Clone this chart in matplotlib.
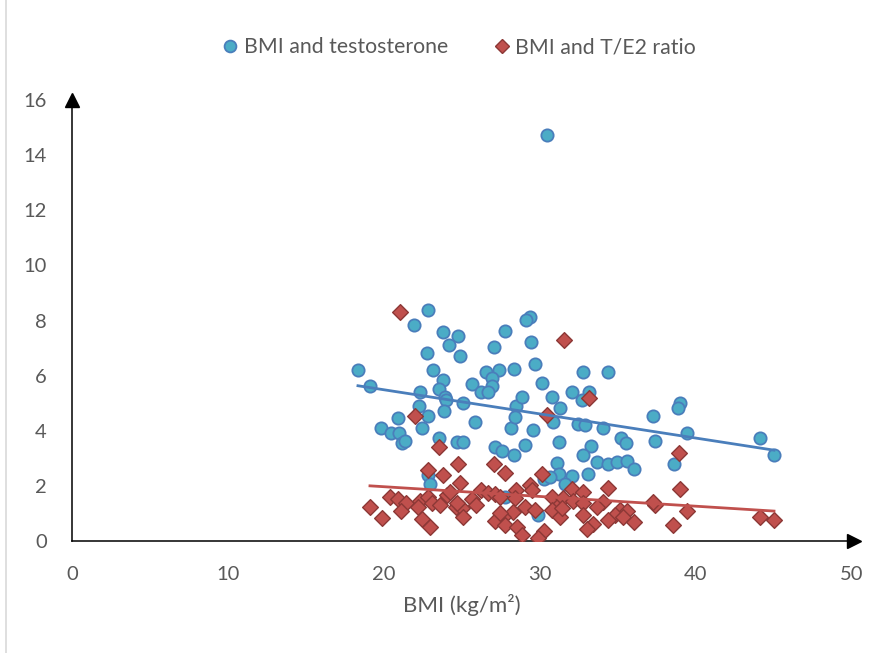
import numpy as np
import matplotlib
matplotlib.use("Agg")
import matplotlib.pyplot as plt
from matplotlib.lines import Line2D

# ---- data ----
bmi_t = [30.45, 22.82, 21.92, 23.78, 24.74, 24.17, 27.76, 27.05, 22.76, 24.87,
         18.33, 23.14, 26.54, 27.37, 28.33, 19.10, 23.78, 26.92, 25.64, 23.53,
         26.92, 26.22, 26.67, 22.31, 23.91, 23.97, 25.06, 22.24, 23.85, 28.46,
         28.85, 20.90, 22.82, 25.83, 29.36, 29.10, 29.42, 29.68, 32.76, 34.36,
         30.13, 32.05, 33.14, 32.69, 30.77, 31.28, 37.24, 38.97, 38.85, 28.14,
         28.40, 19.81, 20.45, 20.96, 21.15, 21.35, 22.44, 23.53, 24.68, 25.06,
         27.12, 27.56, 28.33, 22.82, 22.95, 29.55, 30.83, 31.22, 29.04, 32.44,
         32.88, 34.04, 35.19, 35.51, 37.37, 33.27, 32.76, 33.65, 34.36, 34.94,
         35.58, 36.03, 31.09, 33.08, 31.22, 32.05, 31.60, 30.26, 30.64, 29.87,
         27.76, 44.10, 45.00, 38.59, 39.42]
testosterone = [14.73, 8.38, 7.84, 7.58, 7.44, 7.11, 7.62, 7.04, 6.82, 6.71,
                6.20, 6.20, 6.13, 6.20, 6.24, 5.62, 5.84, 5.91, 5.70, 5.52,
                5.62, 5.41, 5.41, 5.41, 5.22, 5.12, 5.01, 4.90, 4.72, 4.90,
                5.22, 4.46, 4.54, 4.32, 8.13, 8.02, 7.22, 6.42, 6.13, 6.13,
                5.73, 5.41, 5.41, 5.12, 5.22, 4.83, 4.54, 5.01, 4.83, 4.10,
                4.50, 4.10, 3.92, 3.92, 3.56, 3.63, 4.10, 3.74, 3.59, 3.59,
                3.41, 3.27, 3.12, 2.39, 2.07, 4.03, 4.32, 3.59, 3.48, 4.25,
                4.21, 4.10, 3.74, 3.56, 3.63, 3.45, 3.12, 2.87, 2.79, 2.87,
                2.90, 2.61, 2.83, 2.43, 2.43, 2.36, 2.07, 2.25, 2.32, 0.94,
                1.60, 3.74, 3.12, 2.79, 3.92]

bmi_r = [21.00, 31.56, 33.16, 30.45, 21.97, 23.54, 24.76, 27.07, 22.84, 23.76,
         27.76, 24.87, 19.10, 19.85, 20.38, 20.92, 21.41, 21.07, 22.31, 22.20,
         22.84, 23.06, 23.59, 24.02, 22.42, 22.95, 24.62, 24.23, 30.15, 29.36,
         29.51, 28.44, 26.22, 26.69, 27.12, 27.44, 25.62, 25.88, 24.98, 24.66,
         25.08, 28.40, 29.04, 29.68, 28.29, 27.65, 27.12, 27.76, 28.50, 28.83,
         30.28, 29.85, 30.75, 31.07, 30.75, 31.28, 34.38, 32.03, 32.74, 31.50,
         32.14, 32.78, 34.06, 33.63, 31.39, 32.78, 35.13, 35.56, 34.81, 35.34,
         34.38, 36.03, 33.38, 33.00, 37.37, 37.25, 38.50, 38.89, 38.97, 39.40,
         44.10, 45.00, 27.44]
te2_ratio = [8.32, 7.30, 5.20, 4.57, 4.54, 3.42, 2.78, 2.79, 2.59, 2.38,
             2.46, 2.09, 1.22, 0.82, 1.59, 1.51, 1.37, 1.10, 1.46, 1.24,
             1.59, 1.37, 1.31, 1.67, 0.79, 0.50, 1.24, 1.79, 2.42, 2.03,
             1.85, 1.85, 1.85, 1.75, 1.71, 1.61, 1.51, 1.31, 1.19, 1.37,
             0.86, 1.55, 1.24, 1.12, 1.06, 0.88, 0.74, 0.58, 0.50, 0.22,
             0.37, 0.10, 1.61, 1.24, 1.12, 0.88, 1.91, 1.88, 1.79, 1.55,
             1.46, 1.39, 1.43, 1.24, 1.19, 0.94, 1.12, 1.10, 0.94, 0.88,
             0.76, 0.70, 0.62, 0.42, 1.31, 1.40, 0.58, 3.18, 1.89, 1.09,
             0.88, 0.76, 1.00]

x_ticks = [0, 10, 20, 30, 40, 50]
y_ticks = [0, 2, 4, 6, 8, 10, 12, 14, 16]
label_t = "BMI and testosterone"
label_r = "BMI and T/E2 ratio"
x_label = "BMI (kg/m²)"

# ---- style ----
plt.rcParams['font.family'] = ['Lato', 'DejaVu Sans']
TXT = '#595959'
W, H = 885, 653
fig = plt.figure(figsize=(W / 100, H / 100), dpi=100)
ax = fig.add_axes([72 / W, 1 - 541 / H, (852 - 72) / W, (541 - 100) / H])

blue_face, blue_edge = '#4BACC6', '#4A7EBB'
red_face, red_edge = '#C0504D', '#8C3836'

ax.scatter(bmi_t, testosterone, s=78, marker='o', facecolor=blue_face,
           edgecolor=blue_edge, linewidth=1.3, zorder=3)
ax.scatter(bmi_r, te2_ratio, s=64, marker='D', facecolor=red_face,
           edgecolor=red_edge, linewidth=1.0, zorder=4)

# linear trendlines
for xs, ys, c in [(bmi_t, testosterone, '#4A7EBB'), (bmi_r, te2_ratio, '#C0504D')]:
    xs = np.asarray(xs); ys = np.asarray(ys)
    k, b = np.polyfit(xs, ys, 1)
    xx = np.array([xs.min(), xs.max()])
    ax.plot(xx, k * xx + b, color=c, lw=2.0, zorder=5)

ax.set_xlim(0, 50)
ax.set_ylim(0, 16)
ax.set_xticks(x_ticks)
ax.set_yticks(y_ticks)
ax.tick_params(length=0, labelsize=14.5, labelcolor=TXT)
ax.tick_params(axis='x', pad=18)
ax.tick_params(axis='y', pad=18)
for s in ['top', 'right']:
    ax.spines[s].set_visible(False)
for s in ['left', 'bottom']:
    ax.spines[s].set_color('black')
    ax.spines[s].set_linewidth(1.1)

# arrowheads
ax.plot([0], [16], marker='^', color='black', markersize=10, clip_on=False, zorder=6)
ax.plot([50.1], [0], marker='>', color='black', markersize=10, clip_on=False, zorder=6)

ax.set_xlabel(x_label, fontsize=16, color=TXT, labelpad=8)

handles = [Line2D([], [], marker='o', ls='', markersize=8.5, markerfacecolor=blue_face,
                  markeredgecolor=blue_edge, markeredgewidth=1.3),
           Line2D([], [], marker='D', ls='', markersize=7.5, markerfacecolor=red_face,
                  markeredgecolor=red_edge, markeredgewidth=1.0)]
fig.legend(handles, [label_t, label_r], loc='center', ncol=2,
           bbox_to_anchor=(458 / W, 1 - 47 / H), frameon=False,
           fontsize=15.3, labelcolor=TXT, handletextpad=0.15, columnspacing=2.0,
           handlelength=1.0)

# faint figure border on the left
fig.add_artist(Line2D([5.5 / W, 5.5 / W], [0, 1], color='#D9D9D9', lw=1.2,
                      transform=fig.transFigure))

fig.savefig('out.png', dpi=100)
